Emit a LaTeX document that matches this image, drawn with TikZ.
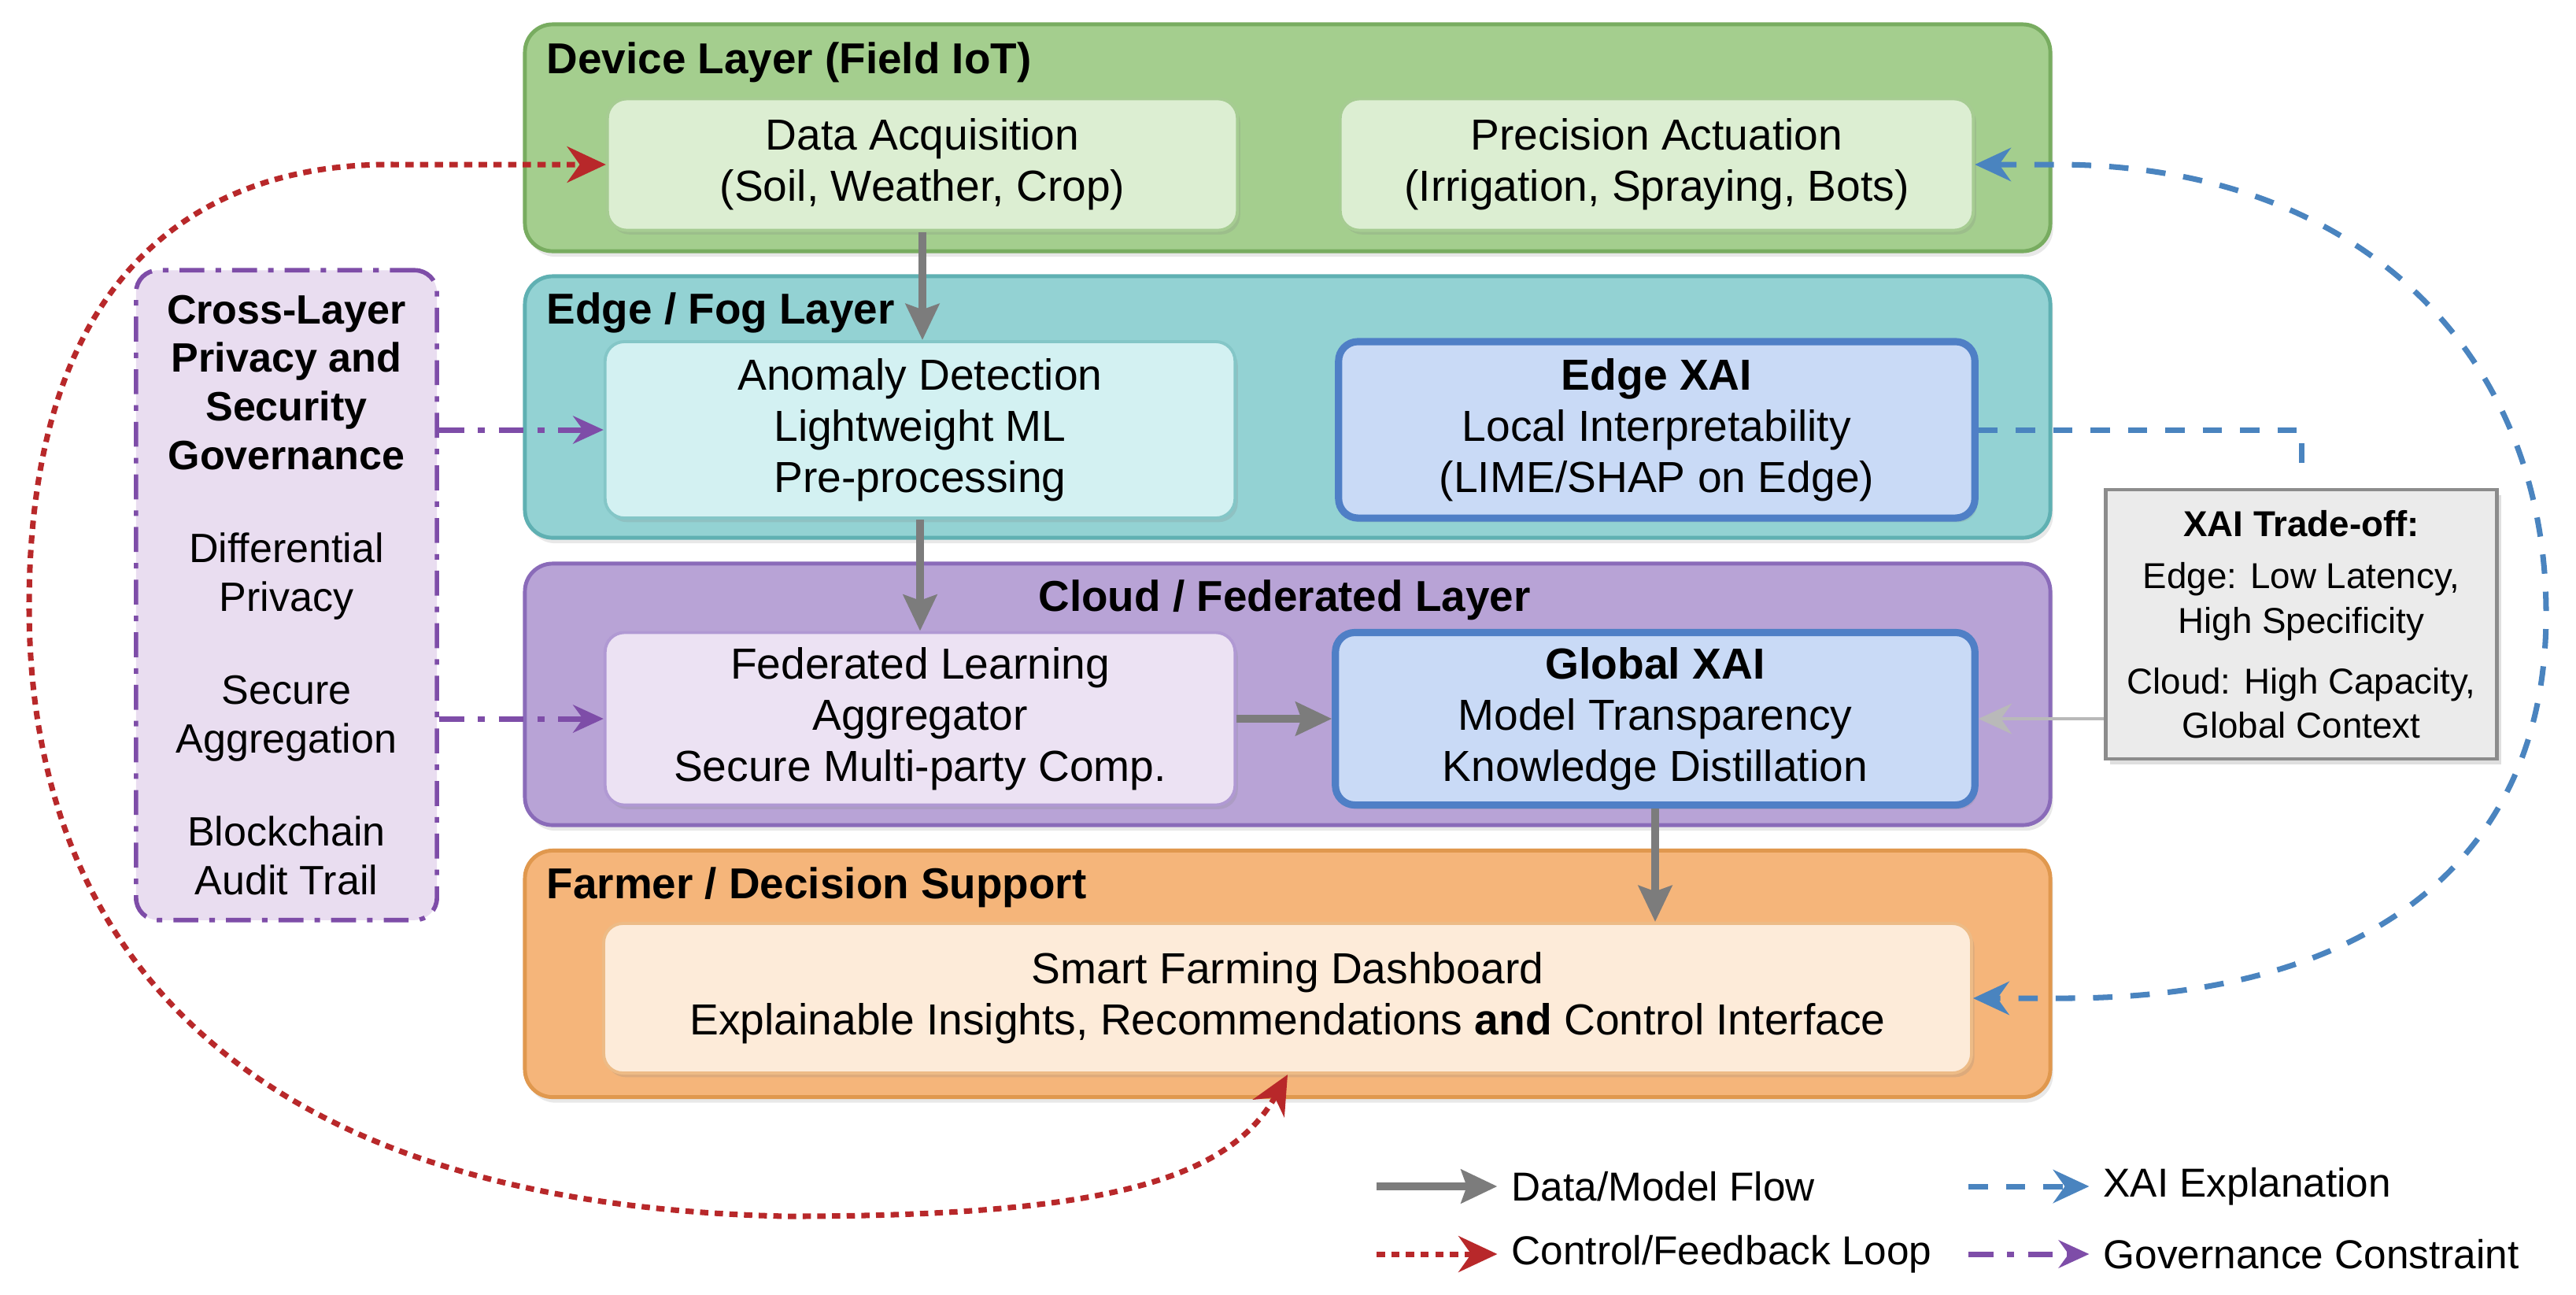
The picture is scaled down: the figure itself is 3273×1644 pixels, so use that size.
\documentclass[tikz,border=0pt]{standalone}
\usepackage{fontspec}
\setmainfont{Liberation Sans}
\usetikzlibrary{arrows.meta,shadows,calc,positioning}

\definecolor{devfill}{HTML}{A4CE8E}
\definecolor{devdraw}{HTML}{78AC60}
\definecolor{devin}{HTML}{DCEED2}
\definecolor{devindraw}{HTML}{A6CC92}
\definecolor{edgefill}{HTML}{93D2D3}
\definecolor{edgedraw}{HTML}{5FB0B2}
\definecolor{edgein}{HTML}{D3F1F2}
\definecolor{edgeindraw}{HTML}{84C6C7}
\definecolor{cloudfill}{HTML}{B8A3D6}
\definecolor{clouddraw}{HTML}{8A6BB9}
\definecolor{cloudin}{HTML}{ECE2F3}
\definecolor{cloudindraw}{HTML}{B099D3}
\definecolor{farmfill}{HTML}{F5B57A}
\definecolor{farmdraw}{HTML}{E0984E}
\definecolor{farmin}{HTML}{FDEBD9}
\definecolor{farmindraw}{HTML}{EDBB86}
\definecolor{xaifill}{HTML}{C9DAF6}
\definecolor{xaidraw}{HTML}{4F7FC6}
\definecolor{govfill}{HTML}{E9DDF0}
\definecolor{govpurple}{HTML}{7E4DA8}
\definecolor{tradefill}{HTML}{EBEBEB}
\definecolor{tradedraw}{HTML}{8C8C8C}
\definecolor{flowgray}{HTML}{7C7C7C}
\definecolor{loopred}{HTML}{B8282A}
\definecolor{xaiblue}{HTML}{4A84BF}

\begin{document}
\begin{tikzpicture}[x=0.01cm, y=-0.01cm,
	layer/.style={draw, line width=1.4pt, rounded corners=10pt, minimum width=19.37cm,
		drop shadow={opacity=0.18, shadow xshift=1pt, shadow yshift=-2pt}},
	ltitle/.style={font=\bfseries\fontsize{15.6}{18}\selectfont, inner sep=0pt},
	box/.style={draw, line width=1.1pt, rounded corners=7pt, align=center, minimum width=8cm,
		font=\fontsize{15.7}{18.5}\selectfont,
		drop shadow={opacity=0.2, shadow xshift=1pt, shadow yshift=-1.5pt}},
	xaibox/.style={box, draw=xaidraw, fill=xaifill, line width=2.6pt},
	govbox/.style={draw=govpurple, fill=govfill, line width=1.6pt, rounded corners=8pt,
		dash pattern=on 9pt off 4pt on 2pt off 4pt, align=center,
		font=\fontsize{14.8}{17.6}\selectfont, minimum width=3.82cm, minimum height=8.25cm},
	tradebox/.style={draw=tradedraw, fill=tradefill, line width=1.3pt, align=center,
		font=\fontsize{13}{16}\selectfont, minimum width=4.97cm, minimum height=3.42cm,
		drop shadow={opacity=0.25, shadow xshift=1.5pt, shadow yshift=-2pt}},
	legtext/.style={anchor=west, inner sep=0pt, font=\fontsize{14.6}{17}\selectfont},
	flow/.style={draw=flowgray, line width=3pt, -{Stealth[length=13pt, width=12pt, inset=2pt]}},
	feedback/.style={draw=loopred, line width=2pt, dash pattern=on 3pt off 2.3pt,
		>={Stealth[length=14pt, width=13pt]}},
	xaidash/.style={draw=xaiblue, line width=2pt, dash pattern=on 7pt off 6.5pt,
		>={Stealth[length=13pt, width=12pt]}},
	govline/.style={draw=govpurple, line width=2pt, dash pattern=on 9pt off 5pt on 2.5pt off 5pt,
		-{Stealth[length=11pt, width=10pt]}},
	tradeline/.style={draw=gray!55, line width=1.3pt, -{Stealth[length=12pt, width=11pt]}}]
	\path[use as bounding box, fill=white] (0,0) rectangle (3273,1644);

	% layers
	\node[layer, draw=devdraw, fill=devfill, minimum height=2.88cm] (devlayer) at (1636,175) {};
	\node[layer, draw=edgedraw, fill=edgefill, minimum height=3.32cm] (edgelayer) at (1636,517) {};
	\node[layer, draw=clouddraw, fill=cloudfill, minimum height=3.32cm] (cloudlayer) at (1636,882) {};
	\node[layer, draw=farmdraw, fill=farmfill, minimum height=3.13cm] (farmlayer) at (1636,1237) {};
	\node[ltitle, anchor=west] (devtitle) at (694,79) {Device Layer (Field IoT)};
	\node[ltitle, anchor=west] (edgetitle) at (694,397) {Edge / Fog Layer};
	\node[ltitle] (cloudtitle) at (1632,762) {Cloud / Federated Layer};
	\node[ltitle, anchor=west] (farmtitle) at (694,1127) {Farmer / Decision Support};

	% components
	\node[box, draw=devindraw, fill=devin, minimum height=1.67cm] (daq) at (1172,209)
		{Data Acquisition\\(Soil, Weather, Crop)};
	\node[box, draw=devindraw, fill=devin, minimum height=1.67cm, minimum width=8.04cm] (prec) at (2105,209)
		{Precision Actuation\\(Irrigation, Spraying, Bots)};
	\node[box, draw=edgeindraw, fill=edgein, minimum height=2.24cm] (anom) at (1169,546)
		{Anomaly Detection\\Lightweight ML\\Pre-processing};
	\node[xaibox, minimum height=2.24cm, minimum width=8.08cm] (exai) at (2105,546)
		{\textbf{Edge XAI}\\Local Interpretability\\(LIME/SHAP on Edge)};
	\node[box, draw=cloudindraw, fill=cloudin, minimum height=2.19cm] (fl) at (1169,913)
		{Federated Learning\\Aggregator\\Secure Multi-party Comp.};
	\node[xaibox, minimum height=2.19cm, minimum width=8.12cm] (gxai) at (2103,913)
		{\textbf{Global XAI}\\Model Transparency\\Knowledge Distillation};
	\node[box, draw=farmindraw, fill=farmin, minimum height=1.9cm, minimum width=17.37cm] (dashboard) at (1636,1268)
		{Smart Farming Dashboard\\Explainable Insights, Recommendations \textbf{and} Control Interface};

	\node[govbox] (gov) at (364,756)
		{\textbf{Cross-Layer}\\\textbf{Privacy and}\\\textbf{Security}\\\textbf{Governance}\\[16pt]
		Differential\\Privacy\\[16pt]Secure\\Aggregation\\[16pt]Blockchain\\Audit Trail};
	\node[tradebox] (tradeoff) at (2924,793)
		{\textbf{XAI Trade-off:}\\[3pt]Edge: Low Latency,\\High Specificity\\[6pt]Cloud: High Capacity,\\Global Context};

	% data / model flow
	\draw[flow] (daq.south) -- (daq.south |- anom.north);
	\draw[flow] (anom.south) -- (anom.south |- fl.north);
	\draw[flow] (fl.east) -- (gxai.west);
	\draw[flow] (gxai.south) -- (gxai.south |- dashboard.north);
	\draw[tradeline] (tradeoff.west |- gxai.east) -- (gxai.east);

	% governance
	\draw[govline] (gov.east |- anom.west) -- (anom.west);
	\draw[govline] (gov.east |- fl.west) -- (fl.west);

	% explanations
	\draw[xaidash] (exai.east) -| ([yshift=5pt]tradeoff.north);
	\draw[xaidash, <->] (prec.east) -- ($(prec.east)+(110,0)$)
		.. controls (3000,212) and (3235,450) .. (3235,780)
		.. controls (3235,1100) and (3000,1268) .. ($(dashboard.east)+(115,0)$) -- (dashboard.east);

	% control loop
	\draw[feedback, <->] (dashboard.south) .. controls (1560,1500) and (1400,1545) .. (1000,1545)
		.. controls (300,1530) and (37,1200) .. (37,770)
		.. controls (37,350) and (250,207) .. ($(daq.west)+(-270,0)$) -- (daq.west);

	% legend
	\coordinate (lgflowS) at (1749,1507);
	\coordinate (lgloopS) at (1749,1593);
	\coordinate (lgxaiS) at (2501,1507);
	\coordinate (lggovS) at (2501,1593);
	\node[legtext] (lgflow) at (1920,1507) {Data/Model Flow};
	\node[legtext] (lgloop) at (1920,1593) {Control/Feedback Loop};
	\node[legtext] (lgxai) at (2672,1507) {XAI Explanation};
	\node[legtext] (lggov) at (2672,1593) {Governance Constraint};
	\draw[flow, shorten >=5pt] (lgflowS) -- (lgflow.west);
	\draw[feedback, ->, shorten >=5pt] (lgloopS) -- (lgloop.west);
	\draw[xaidash, ->, shorten >=5pt] (lgxaiS) -- (lgxai.west);
	\draw[govline, shorten >=5pt] (lggovS) -- (lggov.west);
\end{tikzpicture}
\end{document}
